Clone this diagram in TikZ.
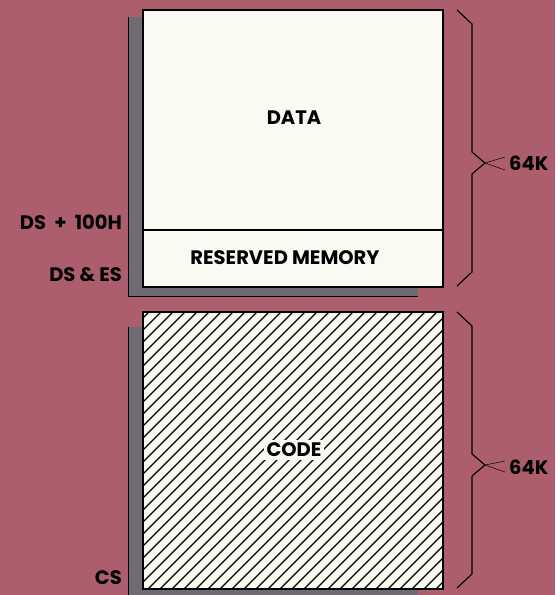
\documentclass[tikz,border=0pt]{standalone}
\usepackage{fontspec}
\setmainfont{Poppins}
\definecolor{rosebg}{RGB}{172,94,108}
\definecolor{shadowgray}{RGB}{112,106,116}
\definecolor{paper}{RGB}{251,250,242}
\tikzset{
    memlabel/.style={font=\fontsize{19.5}{22}\selectfont\bfseries, inner sep=0pt},
    addrlabel/.style={font=\fontsize{19.5}{22}\selectfont\bfseries, anchor=east, inner sep=0pt},
    brace/.style={line width=1.1pt, line join=round},
    pointer/.style={line width=0.5pt}
}
\begin{document}
\begin{tikzpicture}[x=1pt, y=-1pt, >=latex]
        % --- SETTINGS ---
        \def\boxL{143}
        \def\boxR{443}
        \def\boxH{277}
        \def\braceX{472}

        % Background
        \fill[rosebg] (0,0) rectangle (555,595);
        \useasboundingbox (0,0) rectangle (555,595);

        % =========================================
        % DATA SEGMENT (Top)
        % =========================================
        \begin{scope}[shift={(0, 10)}]
            % Shadow
            \fill[shadowgray] (128, 7) rectangle (418, \boxH+9);
            \draw[black, line width=0.6pt] (128, 7) -- (128, \boxH+9) -- (418, \boxH+9);

            % Front Sheet
            \fill[paper] (\boxL, 0) rectangle (\boxR, \boxH);
            \draw[black, line width=1.2pt] (\boxL, 0) rectangle (\boxR, \boxH);
            \draw[black, line width=1.2pt] (\boxL, 220) -- (\boxR, 220);

            \node[memlabel] (data) at (294, 108) {DATA};
            \node[memlabel] (reserved) at (285, 248) {RESERVED MEMORY};

            % Brace
            \draw[brace] (457, 0) -- (\braceX, 14) -- (\braceX, 142) -- (485, 153) coordinate (tipData)
                -- (\braceX, 164) -- (\braceX, 262) -- (457, 276);
            \node[memlabel, anchor=west] (kData) at (509, 153) {64K};
            \draw[pointer] (kData.west) ++(-4,-6) -- (tipData) -- ++(20,7);
        \end{scope}

        % Addresses (Data)
        \node[addrlabel] (dsHund) at (122, 222) {DS\ \ +\ \ 100H};
        \node[addrlabel] (dsEs) at (122, 275) {DS \& ES};

        % =========================================
        % CODE SEGMENT (Bottom)
        % =========================================
        \begin{scope}[shift={(0, 312)}]
            % Shadow
            \fill[shadowgray] (128, 15) rectangle (418, \boxH+12);
            \draw[black, line width=0.6pt] (128, 15) -- (128, \boxH+12);

            % Front Sheet
            \fill[paper] (\boxL, 0) rectangle (\boxR, \boxH);
            % Hatching
            \begin{scope}
                \clip (\boxL, 0) rectangle (\boxR, \boxH);
                \foreach \x in {-140, -128, ..., 450} {
                    \draw[line width=1.1pt] (\x, \boxH) -- (\x+\boxH, 0);
                }
            \end{scope}
            \draw[black, line width=1.2pt] (\boxL, 0) rectangle (\boxR, \boxH);

            \node[memlabel, fill=paper, inner sep=3pt] (code) at (294, 138) {CODE};

            % Brace
            \draw[brace] (457, 0) -- (\braceX, 14) -- (\braceX, 142) -- (485, 153) coordinate (tipCode)
                -- (\braceX, 164) -- (\braceX, 262) -- (457, 276);
            \node[memlabel, anchor=west] (kCode) at (509, 155) {64K};
            \draw[pointer] (kCode.west) ++(-4,-6) -- (tipCode) -- ++(20,7);
        \end{scope}

        % Address (Code)
        \node[addrlabel] (cs) at (122, 578) {CS};

    \end{tikzpicture}
\end{document}
